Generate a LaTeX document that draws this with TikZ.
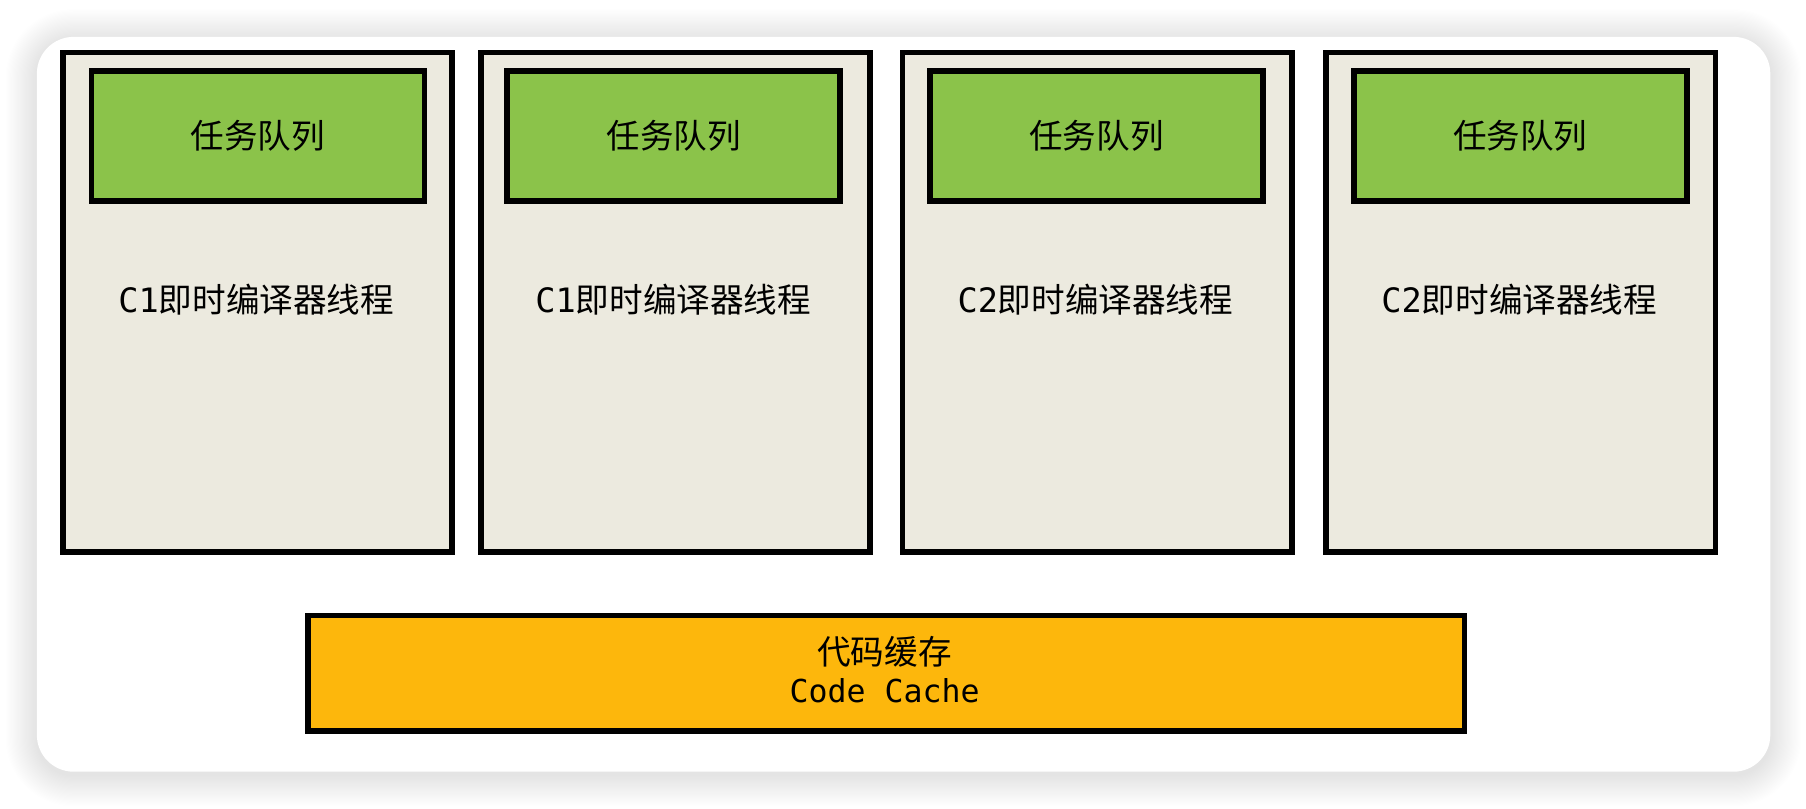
\documentclass[tikz,border=0pt]{standalone}
\usepackage{fontspec}
\newfontfamily\cjk{Noto Sans CJK SC}
\newfontfamily\mono{DejaVu Sans Mono}
\definecolor{threadBg}{HTML}{ECEADF}
\definecolor{queueGreen}{HTML}{8BC34A}
\definecolor{cacheOrange}{HTML}{FDB70C}

\begin{document}
\begin{tikzpicture}[
  y=-1cm,
  txt/.style={font=\fontsize{8.3}{10}\selectfont, inner sep=0pt},
  thr/.style={draw, line width=1.4pt, fill=threadBg, anchor=north west,
              minimum width=3.38cm, minimum height=4.34cm},
  queue/.style={draw, line width=1.4pt, fill=queueGreen, anchor=north west,
                minimum width=2.89cm, minimum height=1.13cm, txt},
  cacheBox/.style={draw, line width=1.4pt, fill=cacheOrange, anchor=north west,
                   minimum width=10.04cm, minimum height=1.0cm}
]
\useasboundingbox (0,0) rectangle (15.68,7.02);
\fill[white] (0,0) rectangle (15.68,7.02);

% --- card with soft shadow ---
\foreach \d in {0.01,0.02,...,0.28}
  \fill[black, opacity=0.005, rounded corners=0.32cm+\d cm]
    (0.32-\d,0.35-\d) rectangle (15.37+\d,6.73+\d);
\fill[white, rounded corners=0.32cm] (0.32,0.32) rectangle (15.37,6.70);

% --- compiler threads ---
\node[thr] (t1) at (0.52,0.43)  {};
\node[thr] (t2) at (4.15,0.43)  {};
\node[thr] (t3) at (7.81,0.43)  {};
\node[thr] (t4) at (11.49,0.43) {};

% --- task queues ---
\node[queue] (q1) at (0.77,0.59)  {\cjk 任务队列};
\node[queue] (q2) at (4.38,0.59)  {\cjk 任务队列};
\node[queue] (q3) at (8.05,0.59)  {\cjk 任务队列};
\node[queue] (q4) at (11.73,0.59) {\cjk 任务队列};

% --- thread labels ---
\node[txt] (l1) at (2.225,2.60)  {{\mono C1}{\cjk 即时编译器线程}};
\node[txt] (l2) at (5.845,2.60)  {{\mono C1}{\cjk 即时编译器线程}};
\node[txt] (l3) at (9.51,2.60)   {{\mono C2}{\cjk 即时编译器线程}};
\node[txt] (l4) at (13.19,2.60)  {{\mono C2}{\cjk 即时编译器线程}};

% --- code cache ---
\node[cacheBox] (cc) at (2.65,5.32) {};
\node[txt] (ccZh) at (7.68,5.66) {\cjk 代码缓存};
\node[txt, font=\fontsize{7.8}{10}\selectfont\mono] (ccEn) at (7.68,6.00) {Code Cache};

\end{tikzpicture}
\end{document}
